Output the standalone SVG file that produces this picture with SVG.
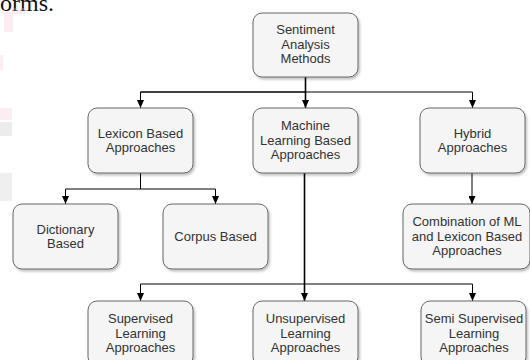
<svg xmlns="http://www.w3.org/2000/svg" width="530" height="360" viewBox="0 0 530 360">
<style>
.node rect{fill:#f5f5f5;stroke:#666666;stroke-width:1;filter:url(#sh)}
.node text{font-family:"Liberation Sans",Arial,sans-serif;font-size:13px;fill:#333333;text-anchor:middle}
.edge{fill:none;stroke:#000000;stroke-width:1}
.edge.thick{stroke-width:1.6}
</style>
<defs>
<filter id="sh" x="-10%" y="-10%" width="130%" height="130%">
<feDropShadow dx="1.5" dy="2" stdDeviation="1" flood-color="#000000" flood-opacity="0.25"/>
</filter>
<marker id="ah" viewBox="0 0 8 7" refX="8" refY="3.5" markerWidth="8" markerHeight="7" markerUnits="userSpaceOnUse" orient="auto">
<path d="M0,0 L8,3.5 L0,7 Z" fill="#000000"/>
</marker>
</defs>
<rect width="530" height="360" fill="#ffffff"/>
<g id="artifacts">
<text x="0" y="11" font-family="Liberation Serif,'Times New Roman',serif" font-size="24" fill="#111111">orms.</text>
<rect x="4" y="12" width="9" height="20" fill="#f0c8d4" opacity="0.35"/>
<rect x="12" y="8" width="14" height="6" fill="#f0c8d4" opacity="0.3"/>
<rect x="0" y="55" width="3" height="15" fill="#f0c8d4" opacity="0.3"/>
<rect x="0" y="108" width="12" height="12" fill="#f0c8d4" opacity="0.3"/>
<rect x="0" y="122" width="12" height="14" fill="#d0d0d0" opacity="0.4"/>
<rect x="0" y="173" width="12" height="28" fill="#d0d0d0" opacity="0.35"/>
</g>
<g id="connectors">
<path class="edge thick" d="M305.5,77 V108" marker-end="url(#ah)"/>
<path class="edge" d="M140.5,108 V92 H472.5 V108" marker-end="url(#ah)"/>
<path class="edge" d="M305.5,92 H140.5 V108" marker-end="url(#ah)"/>
<path class="edge" d="M140.5,173 V189 H65.5 V204" marker-end="url(#ah)"/>
<path class="edge" d="M140.5,189 H215.5 V204" marker-end="url(#ah)"/>
<path class="edge" d="M472,173 V204" marker-end="url(#ah)"/>
<path class="edge thick" d="M304.5,173 V301" marker-end="url(#ah)"/>
<path class="edge" d="M304.5,284 H140.5 V301" marker-end="url(#ah)"/>
<path class="edge" d="M304.5,284 H472.5 V301" marker-end="url(#ah)"/>
</g>
<g id="sentiment" class="node">
<rect x="253" y="13" width="105" height="64" rx="9"/>
<text x="305.5" y="34">Sentiment</text>
<text x="305.5" y="48.5">Analysis</text>
<text x="305.5" y="63">Methods</text>
</g>
<g id="lexicon" class="node">
<rect x="88" y="108" width="105" height="65" rx="9"/>
<text x="140.5" y="137.5">Lexicon Based</text>
<text x="140.5" y="152">Approaches</text>
</g>
<g id="ml" class="node">
<rect x="253" y="108" width="105" height="65" rx="9"/>
<text x="305.5" y="130">Machine</text>
<text x="305.5" y="144.5">Learning Based</text>
<text x="305.5" y="159">Approaches</text>
</g>
<g id="hybrid" class="node">
<rect x="420" y="108" width="105" height="65" rx="9"/>
<text x="472.5" y="137.5">Hybrid</text>
<text x="472.5" y="152">Approaches</text>
</g>
<g id="dictionary" class="node">
<rect x="13" y="204" width="105" height="65" rx="9"/>
<text x="65.5" y="233.5">Dictionary</text>
<text x="65.5" y="248">Based</text>
</g>
<g id="corpus" class="node">
<rect x="163" y="204" width="105" height="65" rx="9"/>
<text x="215.5" y="241">Corpus Based</text>
</g>
<g id="combination" class="node">
<rect x="403" y="204" width="127" height="65" rx="9"/>
<text x="467" y="226">Combination of ML</text>
<text x="467" y="240.5">and Lexicon Based</text>
<text x="467" y="255">Approaches</text>
</g>
<g id="supervised" class="node">
<rect x="88" y="301" width="105" height="65" rx="9"/>
<text x="140.5" y="323">Supervised</text>
<text x="140.5" y="337.5">Learning</text>
<text x="140.5" y="352">Approaches</text>
</g>
<g id="unsupervised" class="node">
<rect x="253" y="301" width="105" height="65" rx="9"/>
<text x="305.5" y="323">Unsupervised</text>
<text x="305.5" y="337.5">Learning</text>
<text x="305.5" y="352">Approaches</text>
</g>
<g id="semi" class="node">
<rect x="421" y="301" width="105" height="65" rx="9"/>
<text x="474" y="323">Semi Supervised</text>
<text x="474" y="337.5">Learning</text>
<text x="474" y="352">Approaches</text>
</g>
</svg>
